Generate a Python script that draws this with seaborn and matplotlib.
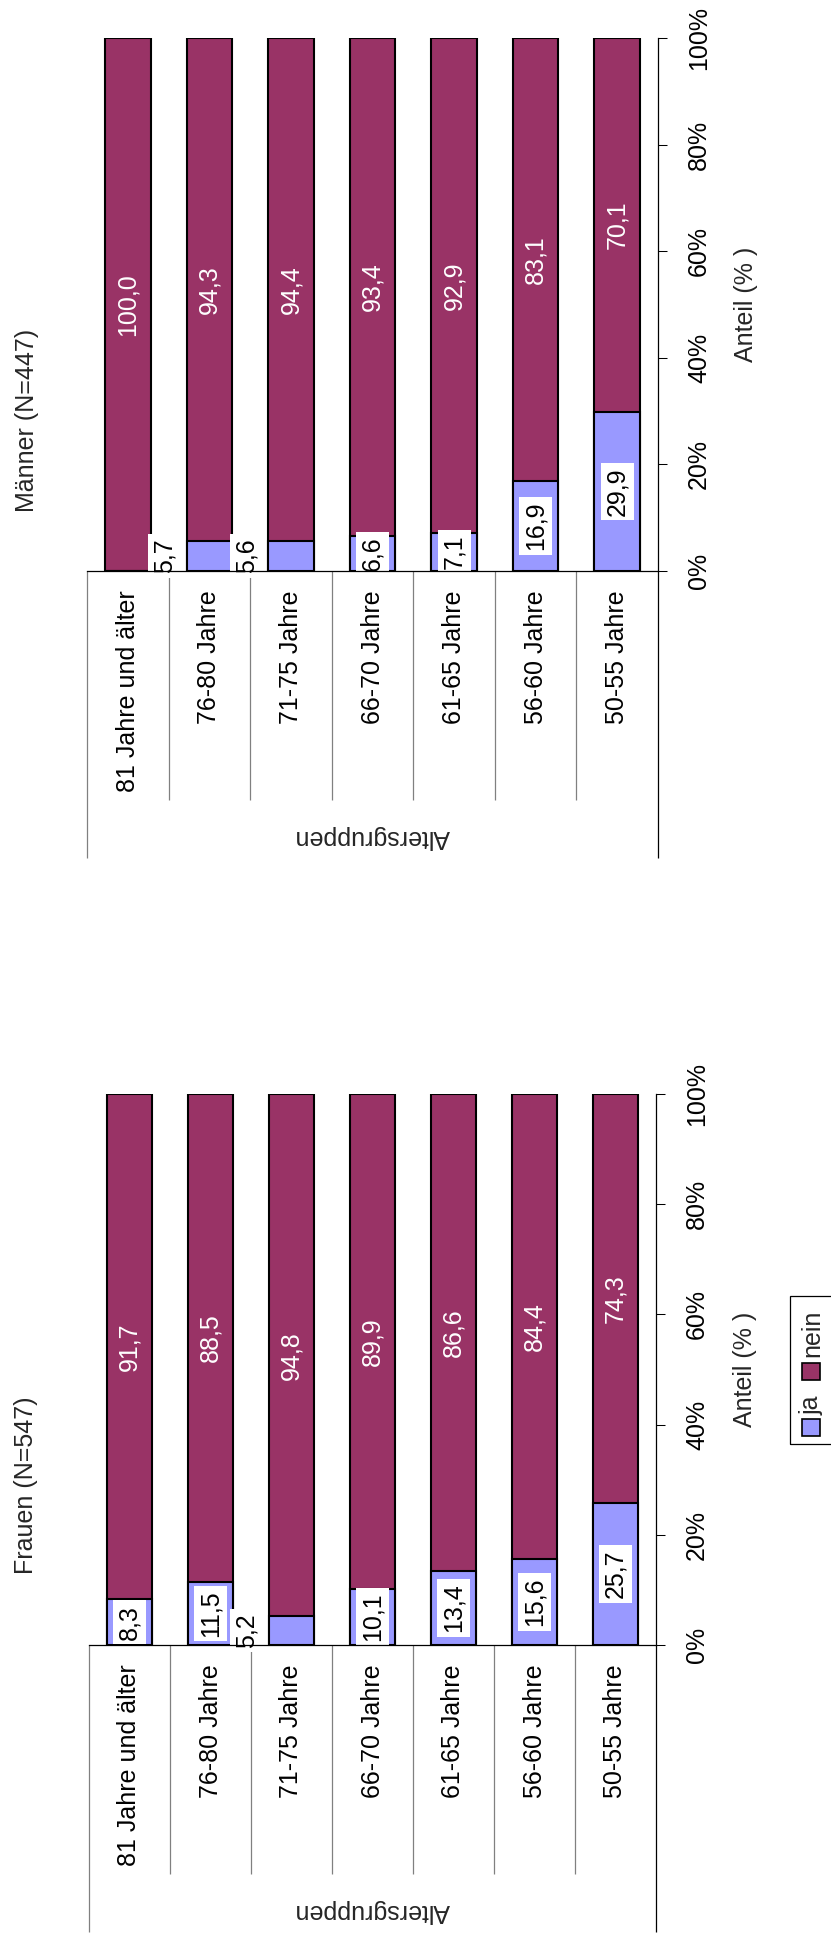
import matplotlib
matplotlib.use("Agg")
import matplotlib.pyplot as plt
import matplotlib.transforms as mtransforms
from matplotlib.patches import Rectangle
import numpy as np
import seaborn as sns

# ---- data -------------------------------------------------------------
age_groups = ["81 Jahre und älter", "76-80 Jahre", "71-75 Jahre", "66-70 Jahre",
              "61-65 Jahre", "56-60 Jahre", "50-55 Jahre"]
maenner_ja = [0.0, 5.7, 5.6, 6.6, 7.1, 16.9, 29.9]
maenner_nein = [100.0, 94.3, 94.4, 93.4, 92.9, 83.1, 70.1]
frauen_ja = [8.3, 11.5, 5.2, 10.1, 13.4, 15.6, 25.7]
frauen_nein = [91.7, 88.5, 94.8, 89.9, 86.6, 84.4, 74.3]
pct_ticks = [0, 20, 40, 60, 80, 100]
series_names = ["ja", "nein"]
panel_titles = ["Männer (N=447)", "Frauen (N=547)"]

COLOR_JA = "#9999FF"
COLOR_NEIN = "#993366"
SERIES_COLORS = [COLOR_JA, COLOR_NEIN]

sns.set_style("white")
plt.rcParams["font.family"] = ["Liberation Sans", "DejaVu Sans"]
plt.rcParams["font.size"] = 18

W, H, DPI = 831, 1938, 100
fig = plt.figure(figsize=(W / DPI, H / DPI), dpi=DPI)
fig.patch.set_facecolor("white")


def px_rect(left, top, right, bottom):
    """Figure-fraction rectangle from pixel edges (origin top-left)."""
    return [left / W, 1 - bottom / H, (right - left) / W, (bottom - top) / H]


def fmt(v):
    return f"{v:.1f}".replace(".", ",")


def draw_panel(ax, ja, nein, title, title_px, label_x_px):
    total = [a + b for a, b in zip(ja, nein)]
    common = dict(order=age_groups, saturation=1, width=0.56,
                  edgecolor="black", linewidth=1.5, errorbar=None, ax=ax)
    sns.barplot(x=age_groups, y=total, color=COLOR_NEIN, **common)
    sns.barplot(x=age_groups, y=ja, color=COLOR_JA, **common)

    # value labels
    for i, (a, b) in enumerate(zip(ja, nein)):
        ax.text(i, a + b / 2, fmt(b), rotation=90, ha="center", va="center",
                color="white", zorder=3)
        if a > 0:
            x = i - 0.55 if a < 6 else i
            ax.text(x, a / 2, fmt(a), rotation=90, ha="center", va="center",
                    color="black", zorder=2.4,
                    bbox=dict(boxstyle="square,pad=0.18", fc="white", ec="none"))

    # value axis on the right
    ax.yaxis.tick_right()
    ax.set_yticks(pct_ticks)
    ax.set_yticklabels([f"{t}%" for t in pct_ticks])
    ax.tick_params(axis="y", direction="out", length=6.5, width=0.75,
                   pad=14.5, labelrotation=90, colors="black", right=True, left=False)
    for t in ax.get_yticklabels():
        t.set_va("center")
    ax.yaxis.set_label_position("right")
    ax.set_ylabel("Anteil (% )", rotation=90)
    bbox_ax = ax.get_position()
    ax_w_px = bbox_ax.width * W
    ax_h_px = bbox_ax.height * H
    ax_left_px = bbox_ax.x0 * W
    ax.yaxis.set_label_coords((label_x_px - ax_left_px) / ax_w_px, 0.5)

    # category axis as a small table below the bars
    ax.set_xlabel("")
    ax.tick_params(axis="x", length=0, pad=14, labelrotation=90, colors="black")
    blend = mtransforms.blended_transform_factory(ax.transData, ax.transAxes)
    edges = np.arange(len(age_groups) + 1) - 0.5
    ax.vlines(edges[1:-1], -229 / ax_h_px, 0, transform=blend, colors="#808080",
              linewidth=0.9, clip_on=False)
    ax.vlines([edges[0]], -287 / ax_h_px, 0, transform=blend, colors="#808080",
              linewidth=0.9, clip_on=False)
    ax.vlines([edges[-1]], -287 / ax_h_px, 0, transform=blend, colors="black",
              linewidth=0.9, clip_on=False)
    ax.text(0.5, -266 / ax_h_px, "Altersgruppen", transform=ax.transAxes,
            rotation=180, ha="center", va="center")

    for side in ("left", "top"):
        ax.spines[side].set_visible(False)
    for side in ("right", "bottom"):
        ax.spines[side].set_color("black")
        ax.spines[side].set_linewidth(0.9)

    ax.set_xlim(-0.5, len(age_groups) - 0.5)
    ax.set_ylim(0, 100)

    fig.text(title_px[0] / W, 1 - title_px[1] / H, title, rotation=90,
             ha="center", va="center")


ax_m = fig.add_axes(px_rect(87, 38, 658, 571))
ax_f = fig.add_axes(px_rect(89, 1094, 656, 1645))

draw_panel(ax_m, maenner_ja, maenner_nein, panel_titles[0], (27, 420), 734)
draw_panel(ax_f, frauen_ja, frauen_nein, panel_titles[1], (26, 1485), 733)

# legend (horizontal legend turned with the rest of the chart)
fig.add_artist(Rectangle((790 / W, 1 - 1444 / H), 70 / W, (1444 - 1296) / H,
                         transform=fig.transFigure, fill=False, ec="black", lw=0.9))
legend_rows = {"ja": (1436, 1415), "nein": (1380, 1357)}
for name, color in zip(series_names, SERIES_COLORS):
    sq_bottom, txt_start = legend_rows[name]
    fig.add_artist(Rectangle((802 / W, 1 - sq_bottom / H), 18 / W, 17 / H,
                             transform=fig.transFigure, fc=color, ec="black", lw=1.2))
    fig.text(812 / W, 1 - txt_start / H, name, rotation=90, rotation_mode="anchor",
             ha="left", va="center")

fig.savefig("out.png", dpi=DPI, facecolor="white")
